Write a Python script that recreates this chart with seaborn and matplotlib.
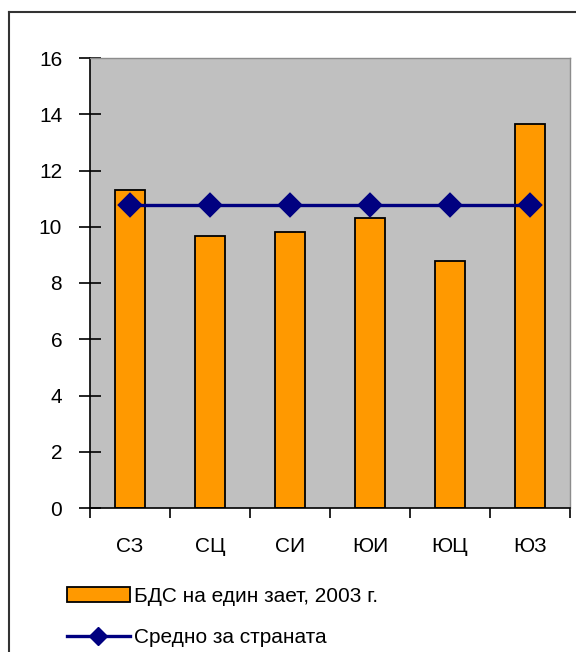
import matplotlib.pyplot as plt
import seaborn as sns
from matplotlib.lines import Line2D
from matplotlib.patches import Patch

# Data
regions = ['СЗ', 'СЦ', 'СИ', 'ЮИ', 'ЮЦ', 'ЮЗ']
gva_per_employee = [11.3, 9.68, 9.82, 10.32, 8.8, 13.65]
country_avg = [10.78, 10.78, 10.78, 10.78, 10.78, 10.78]
y_ticks = [0, 2, 4, 6, 8, 10, 12, 14, 16]
bar_label = 'БДС на един зает, 2003 г.'
line_label = 'Средно за страната'

plt.rcParams['font.family'] = ['Liberation Sans', 'DejaVu Sans']
FS = 15

fig = plt.figure(figsize=(5.76, 6.52), dpi=100)
ax = fig.add_axes([90 / 576, 1 - 508 / 652, 480 / 576, 450 / 652])
ax.set_facecolor('#C0C0C0')

sns.barplot(x=regions, y=gva_per_employee, color='#FF9900', saturation=1,
            edgecolor='black', linewidth=1.3, width=0.375, ax=ax)
sns.pointplot(x=regions, y=country_avg, color='#000080', markers='D',
              markersize=11, linewidth=2.4, errorbar=None, ax=ax)

ax.set_xlim(-0.5, 5.5)
ax.set_ylim(0, 16)
ax.set_yticks(y_ticks)
ax.set_yticklabels([str(t) for t in y_ticks], fontsize=FS)
ax.set_xticks(range(len(regions)))
ax.set_xticklabels(regions, fontsize=FS)
ax.set_xticks([i - 0.5 for i in range(len(regions) + 1)], minor=True)
ax.tick_params(axis='x', which='major', length=0, pad=21)
ax.tick_params(axis='x', which='minor', length=7, width=1.2, direction='out')
ax.tick_params(axis='y', length=16, width=1.2, direction='inout', pad=12)
ax.set_xlabel('')
ax.set_ylabel('')

for side in ['left', 'bottom']:
    ax.spines[side].set_color('black')
    ax.spines[side].set_linewidth(1.2)
for side in ['top', 'right']:
    ax.spines[side].set_color('#8C8C8C')
    ax.spines[side].set_linewidth(1)

# outer chart frame (clipped at right/bottom like the reference)
fig.add_artist(Line2D([9 / 576, 9 / 576], [0, 1 - 12 / 652], color='#333333', lw=1.5))
fig.add_artist(Line2D([9 / 576, 1], [1 - 12 / 652, 1 - 12 / 652], color='#333333', lw=1.5))

handles = [
    Patch(facecolor='#FF9900', edgecolor='black', linewidth=1.3),
    Line2D([], [], color='#000080', marker='D', markersize=9.5, linewidth=2.4),
]
fig.legend(handles, [bar_label, line_label], loc='upper left',
           bbox_to_anchor=(67 / 576, 1 - 587 / 652), frameon=False,
           fontsize=FS, handlelength=3.0, handleheight=0.72,
           handletextpad=0.2, labelspacing=1.05, borderpad=0, borderaxespad=0)

fig.savefig('out.png', dpi=100)
